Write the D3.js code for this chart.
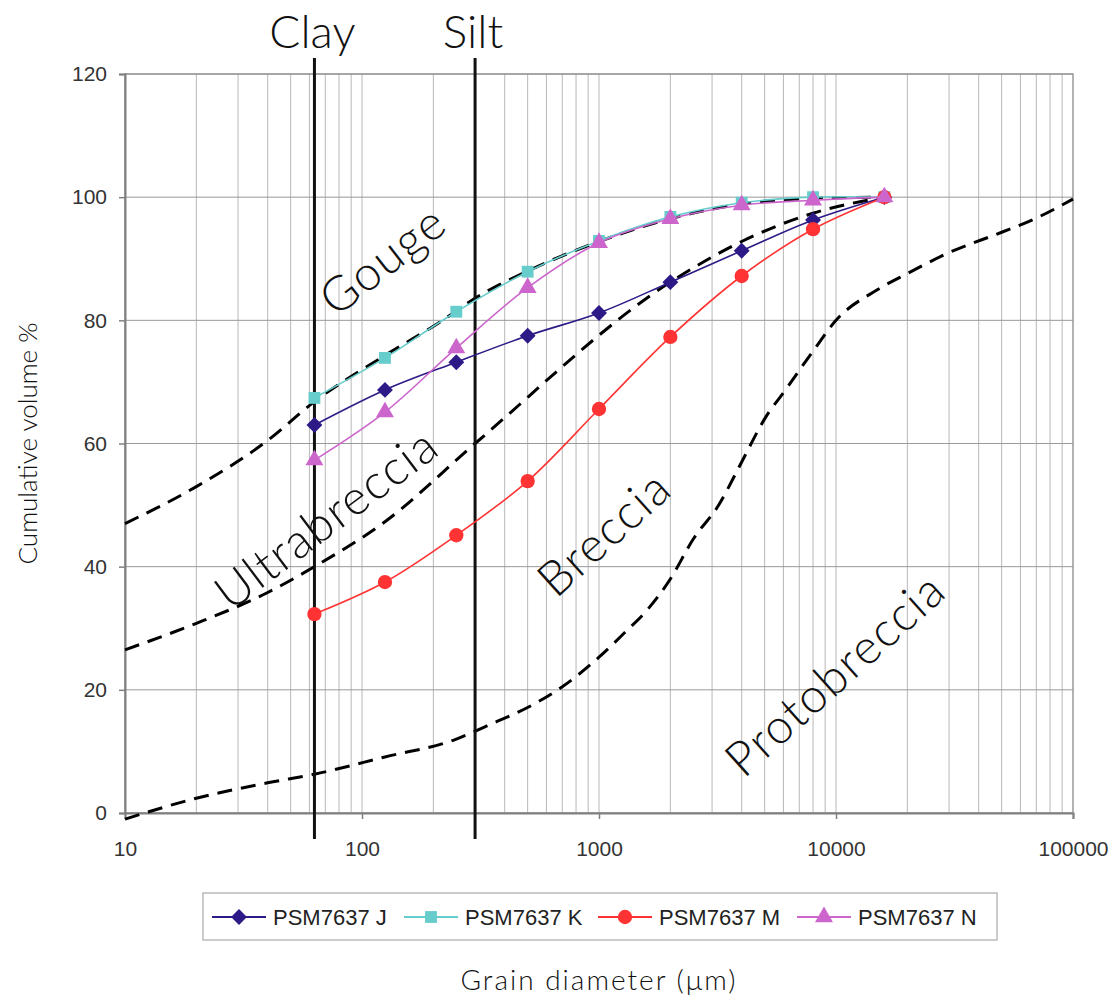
<!DOCTYPE html>
<html>
<head>
<meta charset="utf-8">
<script src="https://cdn.jsdelivr.net/npm/d3@7"></script>
<style>
  body { margin: 0; background: #fff; }
  svg { display: block; }
  .tick text { font-family: "Liberation Sans", Arial, sans-serif; font-size: 21px; fill: #333; }
  .zone { font-family: Lato, "Noto Sans", sans-serif; font-weight: 300; fill: #111; }
</style>
</head>
<body>
<div id="chart"></div>
<script>
// grain sizes (um) of the sieve fractions
var sizes = [63, 125, 250, 500, 1000, 2000, 4000, 8000, 16000];

// cumulative volume % per sample
var psmJ = [63.0, 68.7, 73.2, 77.5, 81.2, 86.2, 91.3, 96.3, 100];
var psmK = [67.4, 73.9, 81.4, 87.9, 92.9, 96.8, 99.1, 100, 100];
var psmM = [32.3, 37.5, 45.1, 53.9, 65.6, 77.3, 87.2, 94.8, 100];
var psmN = [57.3, 65.1, 75.5, 85.3, 92.6, 96.5, 98.7, 99.5, 100];

var seriesNames = ["PSM7637 J", "PSM7637 K", "PSM7637 M", "PSM7637 N"];
var seriesColors = ["#2e1a87", "#66cccc", "#ff3333", "#cc66cc"];

// dashed field boundaries [size, %]
var gougeLine = [[10, 47], [20, 53], [40, 60.5], [63, 66.8], [125, 74.3], [215, 79.8], [300, 83.6],
  [500, 88], [1000, 92.8], [2000, 96.5], [4000, 98.9], [8000, 99.8], [16000, 100]];
var ultraLine = [[10, 26.5], [20, 30.8], [40, 35.8], [63, 40], [125, 47.3], [300, 60],
  [2000, 86.2], [4000, 92.8], [8000, 97.4], [16000, 100]];
var brecciaLine = [[10, -1], [20, 2.4], [40, 4.9], [63, 6.3], [125, 9.1], [250, 12], [330, 14],
  [550, 18], [700, 20.5], [1000, 25.3], [1300, 29.5], [1600, 33], [2000, 38], [2500, 44.5],
  [3200, 50], [4000, 57], [5000, 64], [6200, 69], [8000, 75], [10000, 80], [15000, 85],
  [20000, 87.6], [30000, 91], [50000, 94.3], [70000, 96.6], [100000, 99.7]];

var boundaryNames = ["Clay", "Silt"];
var boundarySizes = [63, 300];

var zoneNames = ["Gouge", "Ultrabreccia", "Breccia", "Protobreccia"];
var zoneSizes = [121, 70, 1040, 9800];
var zoneValues = [90, 48, 45.6, 22.7];
var zoneAngles = [-38, -37, -42, -42];

var yTicks = [0, 20, 40, 60, 80, 100, 120];
var xTicks = [10, 100, 1000, 10000, 100000];

var width = 1116, height = 1003;
var svg = d3.select("#chart").append("svg")
  .attr("width", width).attr("height", height);

var x = d3.scaleLog().domain([10, 100000]).range([125, 1073]);
var y = d3.scaleLinear().domain([0, 120]).range([813, 74]);

function marker(i, size) {
  // J diamond, K square, M circle, N triangle
  if (i === 0) return { d: d3.symbol().type(d3.symbolSquare).size(size * 0.9)(), rot: 45 };
  if (i === 1) return { d: d3.symbol().type(d3.symbolSquare).size(size)(), rot: 0 };
  if (i === 2) return { d: d3.symbol().type(d3.symbolCircle).size(size * 1.15)(), rot: 0 };
  return { d: d3.symbol().type(d3.symbolTriangle).size(size)(), rot: 0 };
}

// grid
var minor = [];
for (var e = 1; e < 5; e++) {
  for (var m = 1; m < 10; m++) minor.push(m * Math.pow(10, e));
}
svg.append("g").selectAll("line").data(minor).enter().append("line")
  .attr("x1", d => x(d)).attr("x2", d => x(d))
  .attr("y1", y(0)).attr("y2", y(120))
  .attr("stroke", "#b8b8b8").attr("stroke-width", 1);
svg.append("g").selectAll("line").data(yTicks).enter().append("line")
  .attr("x1", x(10)).attr("x2", x(100000))
  .attr("y1", d => y(d)).attr("y2", d => y(d))
  .attr("stroke", "#999").attr("stroke-width", 1);
svg.append("rect")
  .attr("x", x(10)).attr("y", y(120))
  .attr("width", x(100000) - x(10)).attr("height", y(0) - y(120))
  .attr("fill", "none").attr("stroke", "#999").attr("stroke-width", 1.5);

// axes
var yAxis = svg.append("g").attr("transform", "translate(" + x(10) + ",0)")
  .call(d3.axisLeft(y).tickValues(yTicks).tickSize(6).tickPadding(12));
var xAxis = svg.append("g").attr("transform", "translate(0," + y(0) + ")")
  .call(d3.axisBottom(x).tickValues(xTicks).tickFormat(d3.format("d")).tickSize(6).tickPadding(22));
[xAxis, yAxis].forEach(function (a) {
  a.select(".domain").attr("stroke", "#808080").attr("stroke-width", 2);
  a.selectAll(".tick line").attr("stroke", "#808080").attr("stroke-width", 1.5);
});

// dashed boundaries
var dashLine = d3.line().x(d => x(d[0])).y(d => y(d[1])).curve(d3.curveMonotoneX);
svg.append("g").selectAll("path").data([gougeLine, ultraLine, brecciaLine]).enter().append("path")
  .attr("d", dashLine)
  .attr("fill", "none").attr("stroke", "#000")
  .attr("stroke-width", 3).attr("stroke-dasharray", "15,9");

// clay / silt
boundarySizes.forEach(function (s, i) {
  svg.append("line")
    .attr("x1", x(s)).attr("x2", x(s))
    .attr("y1", 58).attr("y2", 839)
    .attr("stroke", "#111").attr("stroke-width", 3);
  svg.append("text").attr("class", "zone")
    .attr("x", x(s) - 2).attr("y", 48)
    .attr("text-anchor", "middle").attr("font-size", 46)
    .text(boundaryNames[i]);
});

// zone labels
zoneNames.forEach(function (n, i) {
  svg.append("text").attr("class", "zone")
    .attr("transform", "translate(" + x(zoneSizes[i]) + "," + y(zoneValues[i]) + ") rotate(" + zoneAngles[i] + ")")
    .attr("text-anchor", "middle").attr("dominant-baseline", "central")
    .attr("font-size", 48).attr("letter-spacing", 1.5)
    .text(n);
});

// sample series
var allSeries = [psmJ, psmK, psmM, psmN];
var seriesLine = d3.line().x(d => x(d[0])).y(d => y(d[1])).curve(d3.curveCatmullRom.alpha(0.5));
allSeries.forEach(function (vals, i) {
  var pts = sizes.map((s, j) => [s, vals[j]]);
  var g = svg.append("g");
  g.append("path").attr("d", seriesLine(pts))
    .attr("fill", "none").attr("stroke", seriesColors[i]).attr("stroke-width", 1.6);
  var mk = marker(i, 140);
  g.selectAll("path.pt").data(pts).enter().append("path").attr("class", "pt")
    .attr("transform", d => "translate(" + x(d[0]) + "," + y(d[1]) + ") rotate(" + mk.rot + ")")
    .attr("d", mk.d)
    .attr("fill", seriesColors[i]);
});

// legend
var legend = svg.append("g");
legend.append("rect").attr("x", 203).attr("y", 893).attr("width", 794).attr("height", 47)
  .attr("fill", "#fff").attr("stroke", "#aaa").attr("stroke-width", 1.2);
var legendX = [212, 404, 598, 797];
seriesNames.forEach(function (n, i) {
  var lx = legendX[i], ly = 917;
  legend.append("line").attr("x1", lx).attr("x2", lx + 54).attr("y1", ly).attr("y2", ly)
    .attr("stroke", seriesColors[i]).attr("stroke-width", 2);
  var mk = marker(i, 140);
  legend.append("path").attr("transform", "translate(" + (lx + 27) + "," + ly + ") rotate(" + mk.rot + ")")
    .attr("d", mk.d)
    .attr("fill", seriesColors[i]);
  legend.append("text").attr("x", lx + 61).attr("y", ly + 8)
    .attr("font-family", "'Liberation Sans', Arial, sans-serif").attr("font-size", 22).attr("fill", "#222")
    .text(n);
});

// axis titles, centred on the plot area
svg.append("text").attr("class", "zone")
  .attr("transform", "translate(37," + (y(60)) + ") rotate(-90)")
  .attr("text-anchor", "middle").attr("font-size", 26).attr("fill", "#333")
  .text("Cumulative volume %");
svg.append("text").attr("class", "zone")
  .attr("x", (x(10) + x(100000)) / 2).attr("y", 990)
  .attr("text-anchor", "middle").attr("font-size", 28).attr("letter-spacing", 2)
  .attr("fill", "#333")
  .text("Grain diameter (\u03bcm)");
</script>
</body>
</html>
